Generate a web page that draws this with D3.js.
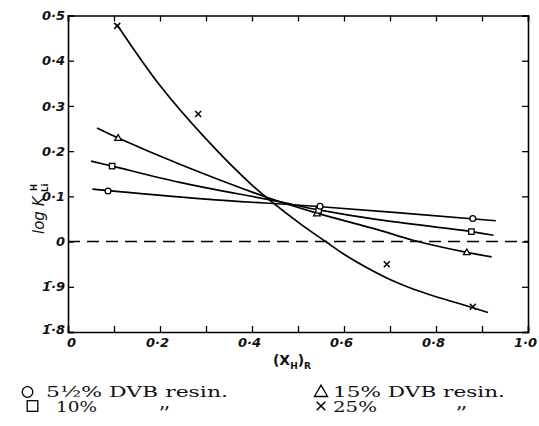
<!DOCTYPE html>
<html><head><meta charset="utf-8">
<script src="https://cdn.jsdelivr.net/npm/d3@7"></script>
<style>body{margin:0;background:#fff} svg{display:block}</style>
</head><body>
<svg id="c" width="539" height="426"></svg>
<script>
// ---- data ----
const xMinorTicks = [0,0.1,0.2,0.3,0.4,0.5,0.6,0.7,0.8,0.9,1.0];
const xTickLabels = {"0":"0","0.2":"0·2","0.4":"0·4","0.6":"0·6","0.8":"0·8","1":"1·0"};
const yTicks = [0.5,0.4,0.3,0.2,0.1,0,-0.1,-0.2];
const yTickLabels = ["0·5","0·4","0·3","0·2","0·1","0","1\u0304·9","1\u0304·8"];

// measured points (markers)
const dvb55X = [0.087, 0.548, 0.880];
const dvb55Y = [0.112, 0.078, 0.051];
const dvb10X = [0.096, 0.545, 0.877];
const dvb10Y = [0.167, 0.069, 0.022];
const dvb15X = [0.109, 0.541, 0.867];
const dvb15Y = [0.229, 0.062, -0.024];
const dvb25X = [0.107, 0.283, 0.693, 0.880];
const dvb25Y = [0.477, 0.282, -0.050, -0.144];

// drawn curves
const curve55X = [0.053, 0.30, 0.55, 0.93];
const curve55Y = [0.116, 0.094, 0.077, 0.046];
const curve10X = [0.050, 0.096, 0.243, 0.45, 0.545, 0.67, 0.877, 0.925];
const curve10Y = [0.178, 0.167, 0.131, 0.090, 0.070, 0.049, 0.022, 0.014];
const curve15X = [0.063, 0.109, 0.243, 0.432, 0.541, 0.671, 0.75, 0.867, 0.921];
const curve15Y = [0.251, 0.229, 0.171, 0.098, 0.063, 0.027, 0.003, -0.024, -0.034];
const curve25X = [0.107, 0.2, 0.3, 0.4, 0.5, 0.56, 0.6, 0.65, 0.7, 0.75, 0.8, 0.85, 0.913];
const curve25Y = [0.479, 0.345, 0.227, 0.125, 0.043, 0.0, -0.028, -0.058, -0.084, -0.105, -0.122, -0.137, -0.157];

// ---- drawing ----
const svg = d3.select("#c");
const x = d3.scaleLinear().domain([0,1]).range([68,528]);
const y = d3.scaleLinear().domain([-0.2,0.5]).range([332,15.5]);
const axisFont = "'DejaVu Sans', sans-serif";

function styleAxis(g){
  g.select(".domain").attr("stroke","#000").attr("stroke-width",1.6);
  g.selectAll(".tick line").attr("stroke","#000").attr("stroke-width",1.3);
  g.selectAll(".tick text").attr("fill","#111").style("font-family",axisFont)
    .style("font-style","italic").style("font-weight","bold").style("font-size","13px");
}

svg.append("g").attr("transform",`translate(0,${y(-0.2)})`)
  .call(d3.axisBottom(x).tickValues(xMinorTicks).tickSize(-6).tickPadding(6)
    .tickFormat(d => xTickLabels[String(+d.toFixed(1))] || ""))
  .call(styleAxis)
  .call(g => g.selectAll(".tick text").attr("dx", d => d === 0 ? "3" : "-3"));
svg.append("g").attr("transform",`translate(0,${y(0.5)})`)
  .call(d3.axisTop(x).tickValues(xMinorTicks).tickSize(-6).tickFormat(""))
  .call(styleAxis);
svg.append("g").attr("transform",`translate(${x(0)},0)`)
  .call(d3.axisLeft(y).tickValues(yTicks).tickSize(-6).tickPadding(3)
    .tickFormat((d,i) => yTickLabels[i]))
  .call(styleAxis)
  .call(g => g.selectAll(".tick text").attr("dy", d => d === -0.2 ? "0.15em" : "0.32em"));
svg.append("g").attr("transform",`translate(${x(1)},0)`)
  .call(d3.axisRight(y).tickValues(yTicks).tickSize(-6).tickFormat(""))
  .call(styleAxis);

// zero dashed line
svg.append("line").attr("x1",x(0)).attr("x2",x(1)).attr("y1",y(0)).attr("y2",y(0))
  .attr("stroke","#000").attr("stroke-width",1.4).attr("stroke-dasharray","12,7");

const line = d3.line().x(d=>x(d[0])).y(d=>y(d[1])).curve(d3.curveCatmullRom.alpha(0.5));
const zip = (a,b) => a.map((v,i)=>[v,b[i]]);
[[curve55X,curve55Y],[curve10X,curve10Y],[curve15X,curve15Y],[curve25X,curve25Y]].forEach(([cx,cy])=>{
  svg.append("path").datum(zip(cx,cy)).attr("d",line)
    .attr("fill","none").attr("stroke","#000").attr("stroke-width",1.7);
});

function marker(g, type, px, py, s){
  if(type==="circle"){
    g.append("circle").attr("cx",px).attr("cy",py).attr("r",s)
      .attr("fill","#fff").attr("stroke","#000").attr("stroke-width",1.3);
  } else if(type==="square"){
    g.append("rect").attr("x",px-s).attr("y",py-s).attr("width",2*s).attr("height",2*s)
      .attr("fill","#fff").attr("stroke","#000").attr("stroke-width",1.3);
  } else if(type==="triangle"){
    g.append("path").attr("d",`M${px},${py-s*1.15}L${px+s*1.1},${py+s*0.75}L${px-s*1.1},${py+s*0.75}Z`)
      .attr("fill","#fff").attr("stroke","#000").attr("stroke-width",1.3);
  } else if(type==="cross"){
    g.append("path").attr("d",`M${px-s},${py-s}L${px+s},${py+s}M${px-s},${py+s}L${px+s},${py-s}`)
      .attr("stroke","#000").attr("stroke-width",1.5);
  }
}
const mg = svg.append("g");
zip(dvb15X,dvb15Y).forEach(d=>marker(mg,"triangle",x(d[0]),y(d[1]),3));
zip(dvb10X,dvb10Y).forEach(d=>marker(mg,"square",x(d[0]),y(d[1]),2.7));
zip(dvb55X,dvb55Y).forEach(d=>marker(mg,"circle",x(d[0]),y(d[1]),2.9));
zip(dvb25X,dvb25Y).forEach(d=>marker(mg,"cross",x(d[0]),y(d[1]),3));

// axis titles
const xt = svg.append("text").attr("x",292).attr("y",365).attr("text-anchor","middle")
  .style("font-family",axisFont).style("font-weight","bold").style("font-size","14px").attr("fill","#111");
xt.append("tspan").text("(X");
xt.append("tspan").attr("dy",4).style("font-size","9px").text("H");
xt.append("tspan").attr("dy",-4).text(")");
xt.append("tspan").attr("dy",4).style("font-size","9px").text("R");

const yt = svg.append("g").attr("transform","translate(44,234) rotate(-90)");
yt.append("text").attr("x",0).attr("y",0)
  .style("font-family",axisFont).style("font-style","italic").style("font-size","15px").attr("fill","#111")
  .text("log K");
yt.append("text").attr("x",43).attr("y",-7).style("font-family",axisFont).style("font-weight","bold")
  .style("font-size","8.5px").attr("fill","#111").text("H");
yt.append("text").attr("x",42).attr("y",4).style("font-family",axisFont).style("font-weight","bold")
  .style("font-size","8.5px").attr("fill","#111").text("Li");

// legend
const legendLabels = ["5½% DVB resin.","15% DVB resin.","10%","25%"];
const serif = "'DejaVu Serif', serif";
const lg = svg.append("g");
marker(lg,"circle",27.5,392,5.3);
marker(lg,"triangle",321,392,6);
marker(lg,"square",32.5,406,5.3);
marker(lg,"cross",321,406,4.3);
const legText = (tx,ty,str,len) => lg.append("text").attr("x",tx).attr("y",ty)
  .attr("textLength",len).attr("lengthAdjust","spacingAndGlyphs")
  .style("font-family",serif).style("font-size","14px").attr("fill","#111").text(str);
legText(46,397,legendLabels[0],182);
legText(333,397,legendLabels[1],172);
legText(56,412,legendLabels[2],41);
legText(333,412,legendLabels[3],44);
const ditto = (tx,ty) => lg.append("text").attr("x",tx).attr("y",ty)
  .style("font-family",serif).style("font-weight","bold").style("font-size","14px").attr("fill","#111").text(",,");
ditto(160,408);
ditto(457,408);
</script>
</body></html>
